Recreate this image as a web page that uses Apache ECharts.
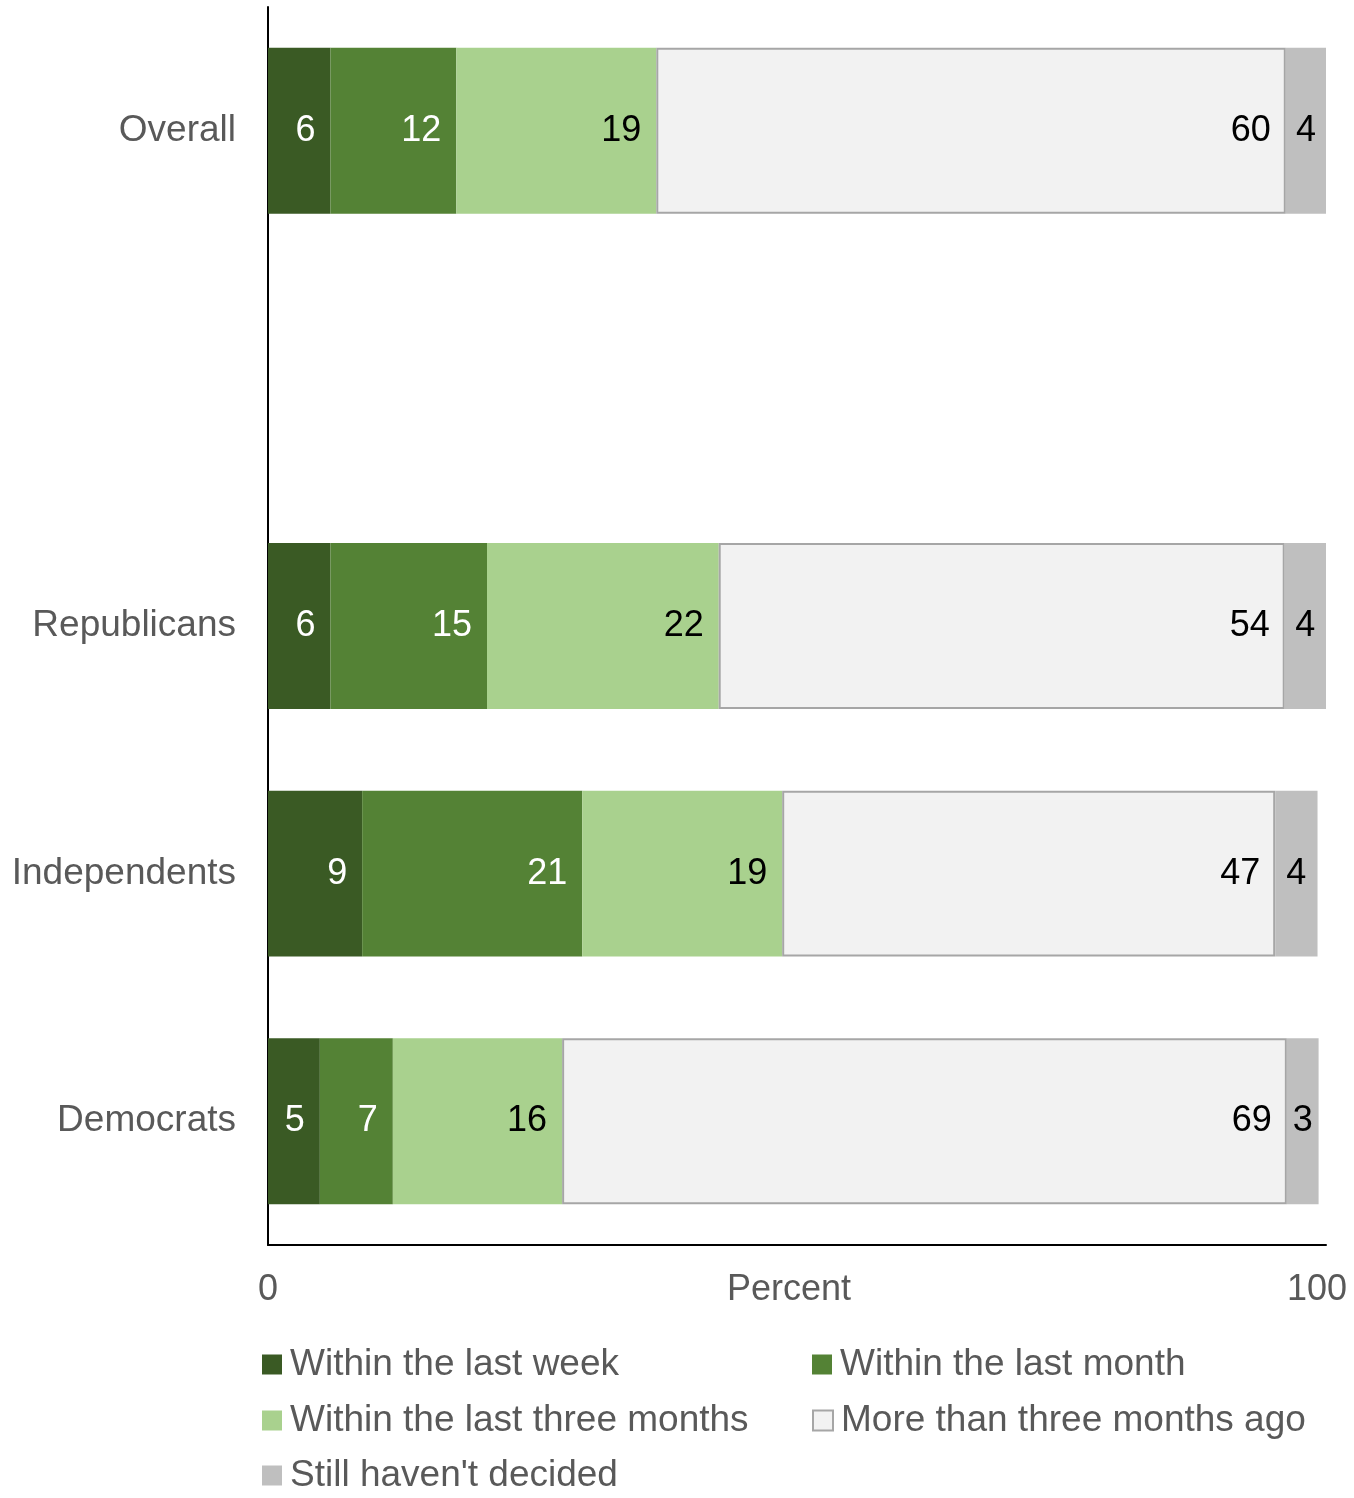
<!DOCTYPE html>
<html>
<head>
<meta charset="utf-8">
<script src="https://cdn.jsdelivr.net/npm/echarts@6/dist/echarts.min.js"></script>
<style>
html,body{margin:0;padding:0;background:#fff;}
#chart{width:1354px;height:1498px;}
</style>
</head>
<body>
<div id="chart"></div>
<script>
// Data
const categories = ['Overall', '', 'Republicans', 'Independents', 'Democrats'];
const seriesNames = ['Within the last week', 'Within the last month', 'Within the last three months', 'More than three months ago', "Still haven't decided"];
const lastWeek       = [5.9, '-', 5.9, 8.9, 4.9];
const lastMonth      = [11.9, '-', 14.8, 20.8, 6.9];
const lastThreeMonth = [18.9, '-', 21.9, 18.9, 16.0];
const moreThanThree  = [59.5, '-', 53.5, 46.6, 68.5];
const undecided      = [4.0, '-', 4.0, 4.0, 3.0];
const xTicks = [0, 100];

const values = [lastWeek, lastMonth, lastThreeMonth, moreThanThree, undecided];
const colors = ['#3A5A24', '#548235', '#A9D18E', '#F2F2F2', '#BFBFBF'];
const labelColors = ['#ffffff', '#ffffff', '#000000', '#000000', '#000000'];
const FONT = "'Liberation Sans', Arial, sans-serif";

const series = seriesNames.map((name, i) => ({
  name: name,
  type: 'bar',
  stack: 'total',
  barWidth: '67%',
  data: values[i],
  itemStyle: i === 3
    ? { color: colors[i], borderColor: '#A6A6A6', borderWidth: 2 }
    : { color: colors[i] },
  label: {
    show: true,
    position: i === 4 ? 'inside' : 'insideRight',
    distance: 15,
    color: labelColors[i],
    fontSize: 36,
    fontFamily: FONT,
    formatter: p => Math.round(p.value)
  },
  emphasis: { disabled: true }
}));

const legendPos = [
  { left: 262, top: 1346 },
  { left: 812, top: 1346 },
  { left: 262, top: 1402 },
  { left: 812, top: 1402 },
  { left: 262, top: 1457 }
];
const legends = seriesNames.map((name, i) => ({
  data: [name],
  left: legendPos[i].left,
  top: legendPos[i].top,
  padding: 0,
  itemWidth: 20,
  itemHeight: 20,
  icon: 'rect',
  selectedMode: false,
  textStyle: { fontSize: 37, color: '#595959', fontFamily: FONT, padding: [0, 0, 0, 3] }
}));

const chart = echarts.init(document.getElementById('chart'));
chart.setOption({
  animation: false,
  backgroundColor: '#ffffff',
  textStyle: { fontFamily: FONT },
  grid: { left: 268, right: 28, top: 7, bottom: 253, outerBoundsMode: 'none', containLabel: false },
  legend: legends,
  xAxis: {
    type: 'value',
    min: xTicks[0],
    max: xTicks[xTicks.length - 1],
    interval: 100,
    name: 'Percent',
    nameLocation: 'middle',
    nameGap: 27,
    nameMoveOverlap: false,
    nameTextStyle: { fontSize: 36, color: '#595959', fontFamily: FONT, padding: [0, 16, 0, 0] },
    axisLine: { show: true, lineStyle: { color: '#000', width: 2 } },
    axisTick: { show: false },
    splitLine: { show: false },
    axisLabel: {
      fontSize: 36, color: '#595959', margin: 27, fontFamily: FONT,
      formatter: v => v === xTicks[xTicks.length - 1] ? '{m|' + v + '}' : String(v),
      rich: { m: { fontSize: 36, color: '#595959', fontFamily: FONT, padding: [0, 18, 0, 0] } }
    }
  },
  yAxis: {
    type: 'category',
    inverse: true,
    data: categories,
    axisLine: { show: true, lineStyle: { color: '#000', width: 2 } },
    axisTick: { show: false },
    axisLabel: { fontSize: 37, color: '#595959', margin: 32, fontFamily: FONT }
  },
  series: series
});
</script>
</body>
</html>
